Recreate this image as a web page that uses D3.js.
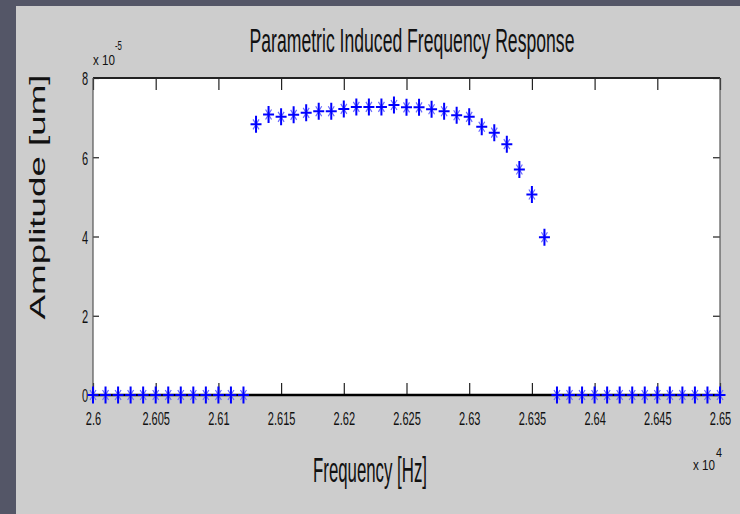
<!DOCTYPE html>
<html>
<head>
<meta charset="utf-8">
<script src="https://cdn.jsdelivr.net/npm/d3@7"></script>
<style>
  html, body { margin: 0; padding: 0; background: #545667; }
  svg { display: block; }
  text { font-family: "Liberation Sans", Arial, sans-serif; fill: #111; }
</style>
</head>
<body>
<div id="content"></div>
<script>
// frequency points [Hz]
var freqs = [26000, 26010, 26020, 26030, 26040, 26050, 26060, 26070, 26080, 26090,
    26100, 26110, 26120, 26130, 26140, 26150, 26160, 26170, 26180, 26190,
    26200, 26210, 26220, 26230, 26240, 26250, 26260, 26270, 26280, 26290,
    26300, 26310, 26320, 26330, 26340, 26350, 26360, 26370, 26380, 26390,
    26400, 26410, 26420, 26430, 26440, 26450, 26460, 26470, 26480, 26490,
    26500];

// amplitude in units of 1e-5 um
var amps = [0, 0, 0, 0, 0, 0, 0, 0, 0, 0,
    0, 0, 0, 6.83, 7.08, 7.02, 7.07, 7.12, 7.16, 7.16,
    7.22, 7.27, 7.27, 7.27, 7.32, 7.26, 7.26, 7.21, 7.16, 7.06,
    7.02, 6.77, 6.62, 6.33, 5.69, 5.06, 3.98, 0, 0, 0,
    0, 0, 0, 0, 0, 0, 0, 0, 0, 0,
    0];

var xTicks = [26000, 26050, 26100, 26150, 26200, 26250, 26300, 26350, 26400, 26450, 26500];
var xTickLabels = ["2.6", "2.605", "2.61", "2.615", "2.62", "2.625", "2.63", "2.635", "2.64", "2.645", "2.65"];
var yTicks = [0, 2, 4, 6, 8];
var yTickLabels = ["0", "2", "4", "6", "8"];

var W = 740, H = 514;
var plot = { left: 93, right: 720, top: 78, bottom: 395 };

var svg = d3.select("#content").append("svg")
    .attr("width", W)
    .attr("height", H);

// gray figure panel
svg.append("rect")
    .attr("x", 16).attr("y", 6)
    .attr("width", W - 16).attr("height", H - 6)
    .attr("fill", "#cdcdcd");

// white axes area
svg.append("rect")
    .attr("x", plot.left).attr("y", plot.top)
    .attr("width", plot.right - plot.left)
    .attr("height", plot.bottom - plot.top)
    .attr("fill", "#ffffff");

var x = d3.scaleLinear().domain([26000, 26500]).range([plot.left, plot.right]);
var y = d3.scaleLinear().domain([0, 8]).range([plot.bottom, plot.top]);

var sx = 0.58; // horizontal squeeze of tick labels

// x axis (bottom, ticks pointing in)
var gx = svg.append("g")
    .attr("transform", "translate(0," + plot.bottom + ")")
    .call(d3.axisBottom(x).tickValues(xTicks)
        .tickFormat(function (d, i) { return xTickLabels[i]; })
        .tickSize(-12).tickSizeOuter(0));
gx.select(".domain").remove();
gx.selectAll("line").attr("stroke", "#222").attr("stroke-width", 1.2);
gx.selectAll("text")
    .attr("y", 30).attr("dy", null)
    .attr("font-size", 19)
    .attr("fill", "#1a1a1a")
    .attr("transform", "scale(" + sx + ",1)");

// top ticks
var gxt = svg.append("g")
    .attr("transform", "translate(0," + plot.top + ")")
    .call(d3.axisTop(x).tickValues(xTicks).tickFormat("").tickSize(-12).tickSizeOuter(0));
gxt.select(".domain").remove();
gxt.selectAll("line").attr("stroke", "#222").attr("stroke-width", 1.2);

// y axis
var gy = svg.append("g")
    .attr("transform", "translate(" + plot.left + ",0)")
    .call(d3.axisLeft(y).tickValues(yTicks)
        .tickFormat(function (d, i) { return yTickLabels[i]; })
        .tickSize(-6).tickSizeOuter(0));
gy.select(".domain").remove();
gy.selectAll("line").attr("stroke", "#222").attr("stroke-width", 1.2);
gy.selectAll("text")
    .attr("x", -5 / sx).attr("dy", "0.36em")
    .attr("font-size", 19)
    .attr("fill", "#1a1a1a")
    .attr("transform", "scale(" + sx + ",1)");

// right ticks
var gyr = svg.append("g")
    .attr("transform", "translate(" + plot.right + ",0)")
    .call(d3.axisRight(y).tickValues(yTicks).tickFormat("").tickSize(-7).tickSizeOuter(0));
gyr.select(".domain").remove();
gyr.selectAll("line").attr("stroke", "#222").attr("stroke-width", 1.2);

// box: horizontal edges look heavier
svg.append("line")
    .attr("x1", plot.left).attr("x2", plot.right)
    .attr("y1", plot.top).attr("y2", plot.top)
    .attr("stroke", "#222").attr("stroke-width", 2);
svg.append("line")
    .attr("x1", plot.left).attr("x2", plot.right)
    .attr("y1", plot.bottom).attr("y2", plot.bottom)
    .attr("stroke", "#000").attr("stroke-width", 2.5);
svg.append("line")
    .attr("x1", plot.left).attr("x2", plot.left)
    .attr("y1", plot.top).attr("y2", plot.bottom)
    .attr("stroke", "#555").attr("stroke-width", 1.2);
svg.append("line")
    .attr("x1", plot.right).attr("x2", plot.right)
    .attr("y1", plot.top).attr("y2", plot.bottom)
    .attr("stroke", "#555").attr("stroke-width", 1.2);

// asterisk markers (stretched vertically like the original)
var data = freqs.map(function (f, i) { return { f: f, a: amps[i] }; });

var marks = svg.append("g").selectAll("g")
    .data(data)
    .enter().append("g")
    .attr("transform", function (d) {
        return "translate(" + x(d.f) + "," + y(d.a) + ")";
    });
marks.append("path")
    .attr("d", "M-3,-5L3,5M-3,5L3,-5")
    .attr("fill", "none")
    .attr("stroke", "#6a6aff")
    .attr("stroke-width", 1.2);
marks.append("path")
    .attr("d", "M0,-8.5V8.5M-5.5,0H5.5")
    .attr("fill", "none")
    .attr("stroke", "#0000ff")
    .attr("stroke-width", 2);

// squeezed text helper: fit text to a given width
function fitText(sel, w) {
    var n = sel.node().getComputedTextLength();
    var k = w / n;
    var t = sel.attr("data-t");
    sel.attr("transform", t + " scale(" + k + ",1)");
}

// title
var title = svg.append("text")
    .attr("data-t", "translate(412,52)")
    .attr("text-anchor", "middle")
    .attr("font-size", 34)
    .text("Parametric Induced Frequency Response");
fitText(title, 325);

// x label
var xl = svg.append("text")
    .attr("data-t", "translate(370,482)")
    .attr("text-anchor", "middle")
    .attr("font-size", 36)
    .text("Frequency [Hz]");
fitText(xl, 114);

// y label
var yl = svg.append("text")
    .attr("data-t", "translate(45,197) rotate(-90)")
    .attr("text-anchor", "middle")
    .attr("font-size", 22)
    .text("Amplitude [um]");
fitText(yl, 245);

// exponent labels
var e1 = svg.append("text")
    .attr("data-t", "translate(93,65)")
    .attr("font-size", 14)
    .text("x 10");
fitText(e1, 22);
var e2 = svg.append("text")
    .attr("data-t", "translate(115,50)")
    .attr("font-size", 13)
    .text("-5");
fitText(e2, 7);
var e3 = svg.append("text")
    .attr("data-t", "translate(693,470)")
    .attr("font-size", 14)
    .text("x 10");
fitText(e3, 22);
var e4 = svg.append("text")
    .attr("data-t", "translate(716,457)")
    .attr("font-size", 13)
    .text("4");
fitText(e4, 6);
</script>
</body>
</html>
